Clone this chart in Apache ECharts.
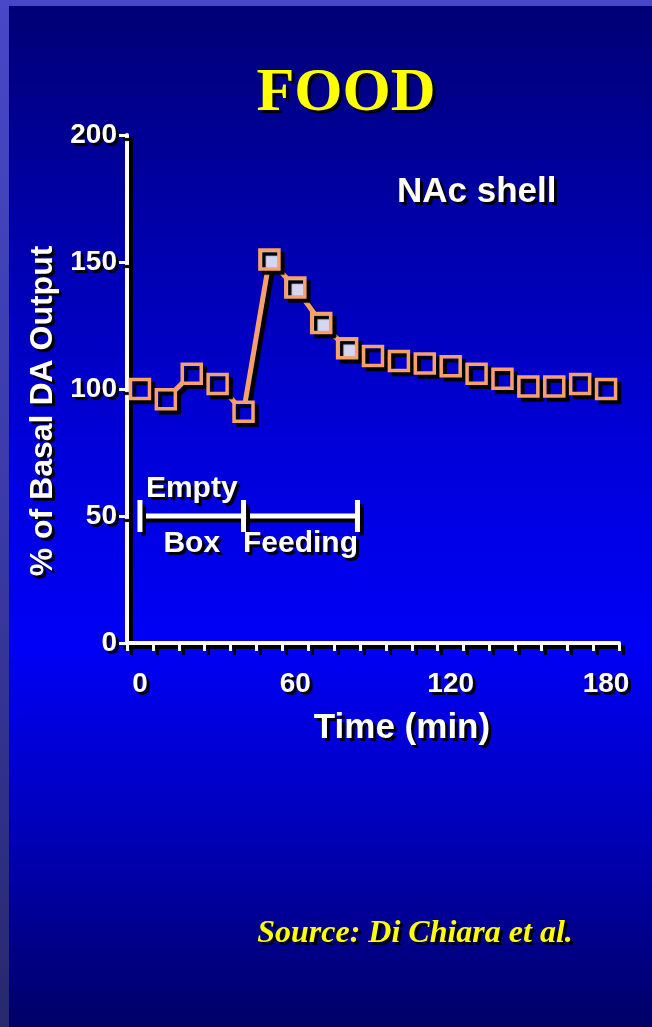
<!DOCTYPE html>
<html>
<head>
<meta charset="utf-8">
<script src="https://cdn.jsdelivr.net/npm/echarts@6/dist/echarts.min.js"></script>
<style>
html,body{margin:0;padding:0;background:#000080;}
#chart{width:652px;height:1027px;}
</style>
</head>
<body>
<div id="chart"></div>
<script>
// ---- data ----
const times = [0, 10, 20, 30, 40, 50, 60, 70, 80, 90, 100, 110, 120, 130, 140, 150, 160, 170, 180];
const daOutput = [100, 96, 106, 102, 91, 151, 140, 126, 116, 113, 111, 110, 109, 106, 104, 101, 101, 102, 100];
const significant = [0, 0, 0, 0, 0, 1, 1, 1, 1, 0, 0, 0, 0, 0, 0, 0, 0, 0, 0];
const xTickValues = [-5, 5, 15, 25, 35, 45, 55, 65, 75, 85, 95, 105, 115, 125, 135, 145, 155, 165, 175, 185];
const xLabelValues = [0, 60, 120, 180];
const yTickValues = [0, 50, 100, 150, 200];
const phaseBounds = [0, 40, 84];
const phaseLevel = [50];
const phaseLabels = ['Empty', 'Box', 'Feeding'];

const ORANGE = '#f6a06c';
const LIGHT = '#d6d6f4';
const DARK = '#0000cc';
const SANS = 'Liberation Sans, Arial, sans-serif';
const shadowText = {textShadowColor: '#000', textShadowOffsetX: 3, textShadowOffsetY: 3, textShadowBlur: 1};
const shadowLine = {shadowColor: '#000', shadowOffsetX: 4, shadowOffsetY: 4, shadowBlur: 1};

const chart = echarts.init(document.getElementById('chart'), null, {renderer: 'canvas'});

const lineData = times.map((t, i) => ({
  value: [t, daOutput[i]],
  itemStyle: {color: significant[i] ? LIGHT : DARK}
}));

const option = {
  animation: false,
  backgroundColor: {
    type: 'linear', x: 0, y: 0, x2: 0, y2: 1,
    colorStops: [
      {offset: 0, color: '#000074'},
      {offset: 0.25, color: '#0000b0'},
      {offset: 0.45, color: '#0000dc'},
      {offset: 0.63, color: '#0000f6'},
      {offset: 0.8, color: '#0000bc'},
      {offset: 1, color: '#000066'}
    ]
  },
  graphic: [
    {type: 'rect', left: 0, top: 0, shape: {width: 652, height: 6}, style: {fill: '#4646c6'}, z: 10},
    {type: 'rect', left: 0, top: 0, shape: {width: 9, height: 1027},
      style: {fill: {type: 'linear', x: 0, y: 0, x2: 0, y2: 1,
        colorStops: [{offset: 0, color: '#4848c8'}, {offset: 0.5, color: '#3a3aa8'}, {offset: 1, color: '#28286e'}]}}, z: 10}
  ],
  title: [
    {text: 'FOOD', left: 341, top: 58, textAlign: 'center',
      textStyle: Object.assign({color: '#ffff00', fontFamily: 'Liberation Serif, Times New Roman, serif', fontWeight: 'bold', fontSize: 62}, shadowText)},
    {text: 'NAc shell', left: 392, top: 170,
      textStyle: Object.assign({color: '#fff', fontFamily: SANS, fontWeight: 'bold', fontSize: 35}, shadowText)},
    {text: 'Source: Di Chiara et al.', left: 410, top: 913, textAlign: 'center',
      textStyle: Object.assign({color: '#ffff00', fontFamily: 'Liberation Serif, Times New Roman, serif', fontWeight: 'bold', fontStyle: 'italic', fontSize: 32}, shadowText)}
  ],
  grid: {left: 127, right: 33, top: 135, bottom: 384},
  xAxis: {
    type: 'value', min: -5, max: 185,
    name: 'Time (min)', nameLocation: 'middle', nameGap: 68,
    nameTextStyle: Object.assign({color: '#fff', fontFamily: SANS, fontWeight: 'bold', fontSize: 35, padding: [0, 0, 0, 58]}, shadowText),
    axisLine: {onZero: false, lineStyle: Object.assign({color: '#fff', width: 4}, shadowLine)},
    axisTick: {show: true, length: 8, customValues: xTickValues, lineStyle: Object.assign({color: '#fff', width: 3}, shadowLine)},
    axisLabel: Object.assign({customValues: xLabelValues, margin: 27, color: '#fff', fontFamily: SANS, fontWeight: 'bold', fontSize: 28}, shadowText),
    splitLine: {show: false}
  },
  yAxis: {
    type: 'value', min: 0, max: 200,
    name: '% of Basal DA Output', nameLocation: 'middle', nameGap: 68, nameRotate: 90,
    nameTextStyle: Object.assign({color: '#fff', fontFamily: SANS, fontWeight: 'bold', fontSize: 32, padding: [0, 44, 0, 0]}, shadowText),
    axisLine: {show: true, onZero: false, lineStyle: Object.assign({color: '#fff', width: 4}, shadowLine)},
    axisTick: {show: true, length: 8, customValues: yTickValues, lineStyle: Object.assign({color: '#fff', width: 3}, shadowLine)},
    axisLabel: Object.assign({customValues: yTickValues, margin: 10, color: '#fff', fontFamily: SANS, fontWeight: 'bold', fontSize: 28}, shadowText),
    splitLine: {show: false}
  },
  series: [
    {
      type: 'custom',
      clip: false,
      z: 3,
      data: [[phaseBounds[0], phaseBounds[1], phaseBounds[2], phaseLevel[0]]],
      renderItem: function (params, api) {
        const p0 = api.coord([api.value(0), api.value(3)]);
        const p1 = api.coord([api.value(1), api.value(3)]);
        const p2 = api.coord([api.value(2), api.value(3)]);
        const cap = 16;
        const ls = Object.assign({stroke: '#fff', lineWidth: 5}, shadowLine);
        const ts = Object.assign({fill: '#fff', font: 'bold 30px ' + SANS, textAlign: 'center', textVerticalAlign: 'middle'}, shadowText);
        const children = [
          {type: 'line', shape: {x1: p0[0], y1: p0[1], x2: p2[0], y2: p2[1]}, style: ls},
          {type: 'line', shape: {x1: p0[0], y1: p0[1] - cap, x2: p0[0], y2: p0[1] + cap}, style: ls},
          {type: 'line', shape: {x1: p1[0], y1: p1[1] - cap, x2: p1[0], y2: p1[1] + cap}, style: ls},
          {type: 'line', shape: {x1: p2[0], y1: p2[1] - cap, x2: p2[0], y2: p2[1] + cap}, style: ls},
          {type: 'text', style: Object.assign({x: (p0[0] + p1[0]) / 2, y: p0[1] - 27, text: phaseLabels[0]}, ts)},
          {type: 'text', style: Object.assign({x: (p0[0] + p1[0]) / 2, y: p0[1] + 28, text: phaseLabels[1]}, ts)},
          {type: 'text', style: Object.assign({x: (p1[0] + p2[0]) / 2, y: p1[1] + 28, text: phaseLabels[2]}, ts)}
        ];
        return {type: 'group', children: children};
      }
    },
    {
      type: 'line',
      z: 5,
      data: lineData,
      symbol: 'rect',
      symbolSize: 19,
      lineStyle: Object.assign({color: ORANGE, width: 5}, shadowLine),
      itemStyle: Object.assign({borderColor: ORANGE, borderWidth: 3.5}, shadowLine),
      emphasis: {disabled: true}
    }
  ]
};
chart.setOption(option);
</script>
</body>
</html>
